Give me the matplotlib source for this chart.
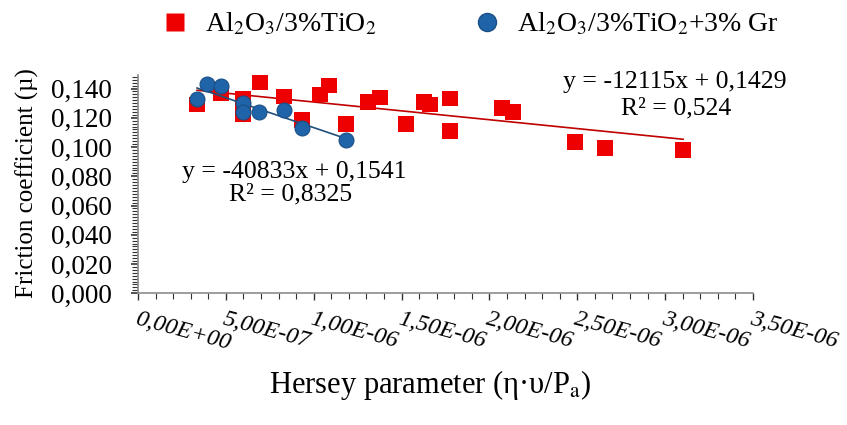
import numpy as np
import matplotlib
matplotlib.use('Agg')
import matplotlib.pyplot as plt
from matplotlib.lines import Line2D
from matplotlib.ticker import MultipleLocator, FuncFormatter

plt.rcParams['font.family'] = ['Liberation Serif', 'DejaVu Serif']
plt.rcParams['mathtext.fontset'] = 'stix'

# Al2O3/3%TiO2 points (Hersey parameter, friction coefficient)
red_x = [0.336e-6, 0.472e-6, 0.598e-6, 0.598e-6, 0.694e-6, 0.831e-6, 0.933e-6,
         1.036e-6, 1.087e-6, 1.184e-6, 1.309e-6, 1.377e-6, 1.525e-6, 1.628e-6,
         1.662e-6, 1.776e-6, 1.776e-6, 2.072e-6, 2.134e-6, 2.487e-6, 2.658e-6,
         3.102e-6]
red_y = [0.129, 0.1366, 0.1331, 0.1228, 0.1441, 0.1345, 0.1186,
         0.1359, 0.1421, 0.1159, 0.131, 0.1338, 0.1159, 0.131,
         0.129, 0.1331, 0.111, 0.1269, 0.1241, 0.1034, 0.0993,
         0.0979]

# Al2O3/3%TiO2+3% Gr points
blue_x = [0.336e-6, 0.393e-6, 0.472e-6, 0.598e-6, 0.598e-6, 0.689e-6,
          0.831e-6, 0.933e-6, 1.184e-6]
blue_y = [0.1331, 0.1434, 0.1414, 0.1303, 0.1241, 0.1241,
          0.1255, 0.1131, 0.1048]

# trend line coefficients as printed on the chart
red_slope, red_icpt = -12115, 0.1429
blue_slope, blue_icpt = -40833, 0.1541

red_lbl = r'Al$_2$O$_3$/3%TiO$_2$'
blue_lbl = r'Al$_2$O$_3$/3%TiO$_2$+3% Gr'

red_c = '#EE0000'
blue_c = '#1F63A8'

fig = plt.figure(figsize=(8.47, 4.25), dpi=100)
ax = fig.add_axes([0.163, 0.31, 0.726, 0.514])

# trend lines
rx = np.array([min(red_x), max(red_x)])
ax.plot(rx, red_slope * rx + red_icpt, color='#C00000', lw=1.2, zorder=2)
bx = np.array([min(blue_x), max(blue_x)])
ax.plot(bx, blue_slope * bx + blue_icpt, color='#1F4E79', lw=1.2, zorder=4)

ax.scatter(red_x, red_y, marker='s', s=128, color=red_c, edgecolors='none', zorder=3)
ax.scatter(blue_x, blue_y, marker='o', s=115, color=blue_c, edgecolors='#1A4F86',
           linewidths=0.8, zorder=5)

ax.set_xlim(0, 3.5e-6)
ax.set_ylim(0, 0.1494)

ax.xaxis.set_major_locator(MultipleLocator(0.5e-6))
ax.xaxis.set_minor_locator(MultipleLocator(0.1e-6))
ax.yaxis.set_major_locator(MultipleLocator(0.02))
ax.yaxis.set_minor_locator(MultipleLocator(0.002))


def y_fmt(v, pos):
    return f'{v:.3f}'.replace('.', ',')


def x_fmt(v, pos):
    return f'{v:.2E}'.replace('.', ',')


ax.yaxis.set_major_formatter(FuncFormatter(y_fmt))
ax.xaxis.set_major_formatter(FuncFormatter(x_fmt))

for side in ['top', 'right']:
    ax.spines[side].set_visible(False)
for side in ['left', 'bottom']:
    ax.spines[side].set_color('#8C8C8C')
    ax.spines[side].set_linewidth(1.2)

ax.tick_params(axis='both', which='both', color='#333333', direction='out')
ax.tick_params(axis='y', which='major', length=5, width=1.2, labelsize=19.5, pad=14)
ax.tick_params(axis='y', which='minor', length=4, width=0.8)
ax.tick_params(axis='x', which='major', length=5, width=1.0, labelsize=17.5, pad=6)
ax.tick_params(axis='x', which='minor', length=4, width=0.8)

for lbl in ax.get_xticklabels():
    lbl.set_rotation(-15)
    lbl.set_ha('left')
    lbl.set_va('top')
    lbl.set_rotation_mode('anchor')
    lbl.set_style('italic')

fig.text(0.032, 0.57, 'Friction coefficient (µ)', fontsize=18, rotation=90,
         ha='center', va='center')
fig.text(0.508, 0.094, r'Hersey parameter (η·υ/P$_\mathrm{a}$)', fontsize=22,
         ha='center', va='center')

# trend line equations
ax.text(2.42e-6, 0.1448, 'y = -12115x + 0,1429', fontsize=18.5, ha='left', va='center')
ax.text(3.06e-6, 0.1265, 'R² = 0,524', fontsize=18.5, ha='center', va='center')
ax.text(0.25e-6, 0.0828, 'y = -40833x + 0,1541', fontsize=18.5, ha='left', va='center')
ax.text(0.87e-6, 0.0678, 'R² = 0,8325', fontsize=18.5, ha='center', va='center')

handles = [
    Line2D([], [], ls='none', marker='s', ms=12.5, color=red_c, mec='none'),
    Line2D([], [], ls='none', marker='o', ms=13, color=blue_c, mec='#1A4F86'),
]
fig.legend(handles, [red_lbl, blue_lbl], loc='upper left', bbox_to_anchor=(0.19, 0.975),
           ncol=2, frameon=False, fontsize=20, handlelength=1.0, handletextpad=0.58,
           columnspacing=3.5, borderpad=0, borderaxespad=0)

fig.savefig('out.png', dpi=100)
